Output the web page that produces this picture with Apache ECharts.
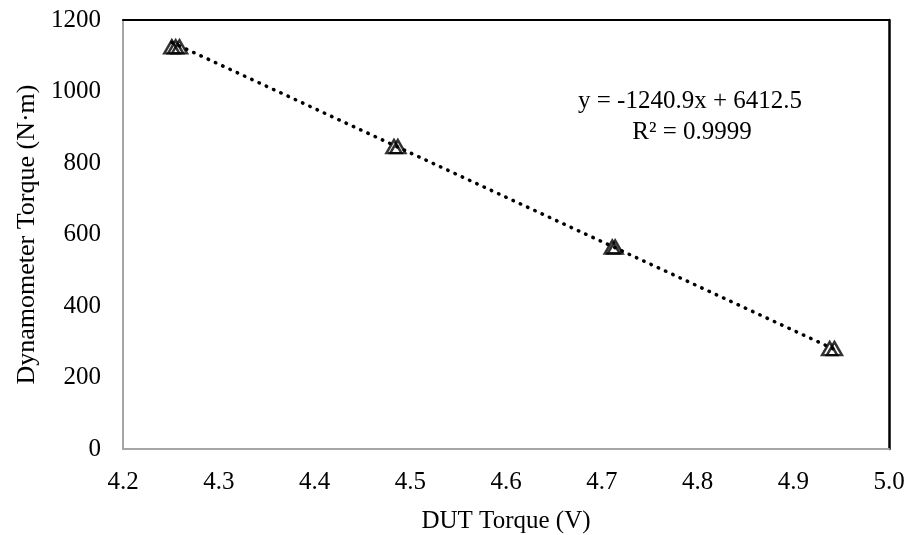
<!DOCTYPE html>
<html>
<head>
<meta charset="utf-8">
<script src="https://cdn.jsdelivr.net/npm/echarts@6/dist/echarts.min.js"></script>
<style>html,body{margin:0;padding:0;background:#fff}#c{width:910px;height:535px}</style>
</head>
<body>
<div id="c"></div>
<script>
var dutTorque = [4.251, 4.255, 4.259, 4.483, 4.487, 4.711, 4.714, 4.938, 4.943];
var dynoTorque = [1125, 1125, 1125, 846, 846, 565, 565, 281, 281];
var trendX = [4.251, 4.945];
var trendY = [1137.4, 276.2];
var xTicks = ['4.2','4.3','4.4','4.5','4.6','4.7','4.8','4.9','5.0'];
var yTicks = ['0','200','400','600','800','1000','1200'];
var eqText = 'y = -1240.9x + 6412.5';
var r2Text = 'R² = 0.9999';

var font = '"Liberation Serif","Times New Roman",serif';
var chart = echarts.init(document.getElementById('c'), null, {renderer:'canvas'});
var pts = dutTorque.map(function(x,i){return [x, dynoTorque[i]];});
var trend = trendX.map(function(x,i){return [x, trendY[i]];});
chart.setOption({
  animation:false,
  backgroundColor:'#fff',
  grid:{left:123, top:20, right:21, bottom:86, containLabel:false, outerBoundsMode:'none'},
  xAxis:[{
    type:'value', min:4.2, max:5.0, interval:0.1,
    name:'DUT Torque (V)', nameLocation:'middle', nameGap:60,
    nameTextStyle:{fontFamily:font, fontSize:25, color:'#000'},
    axisLine:{show:true, lineStyle:{color:'#a6a6a6', width:2}},
    axisTick:{show:false}, splitLine:{show:false},
    axisLabel:{fontFamily:font, fontSize:25, color:'#000', margin:21,
      formatter:function(v){var i=Math.round((v-4.2)*10);return xTicks[i]!==undefined?xTicks[i]:'';}}
  },{
    type:'value', position:'top', min:0, max:1,
    axisLine:{show:true, onZero:false, lineStyle:{color:'#000', width:2}},
    axisTick:{show:false}, axisLabel:{show:false}, splitLine:{show:false}
  }],
  yAxis:[{
    type:'value', min:0, max:1200, interval:200,
    name:'Dynamometer Torque (N·m)', nameLocation:'middle', nameGap:80,
    nameTextStyle:{fontFamily:font, fontSize:26, color:'#000'},
    axisLine:{show:true, lineStyle:{color:'#a6a6a6', width:2}},
    axisTick:{show:false}, splitLine:{show:false},
    axisLabel:{fontFamily:font, fontSize:25, color:'#000', margin:22,
      formatter:function(v){var i=Math.round(v/200);return yTicks[i]!==undefined?yTicks[i]:'';}}
  },{
    type:'value', position:'right', min:0, max:1,
    axisLine:{show:true, onZero:false, lineStyle:{color:'#000', width:2.5}},
    axisTick:{show:false}, axisLabel:{show:false}, splitLine:{show:false}
  }],
  series:[{
    type:'line', data:trend, showSymbol:false, symbol:'none',
    lineStyle:{color:'#000', width:3.5, type:[0.5,7.5], cap:'round'}, z:2
  },{
    type:'scatter', data:pts, symbol:'triangle', symbolSize:[15,13],
    itemStyle:{color:'rgba(255,255,255,0)', borderColor:'#000', borderWidth:2.5}, z:3
  }],
  graphic:[
    {type:'text', x:690, y:101, style:{text:eqText, font:'25px '+font, fill:'#000', align:'center', verticalAlign:'middle'}},
    {type:'text', x:692, y:132, style:{text:r2Text, font:'25px '+font, fill:'#000', align:'center', verticalAlign:'middle'}}
  ]
});
</script>
</body>
</html>
